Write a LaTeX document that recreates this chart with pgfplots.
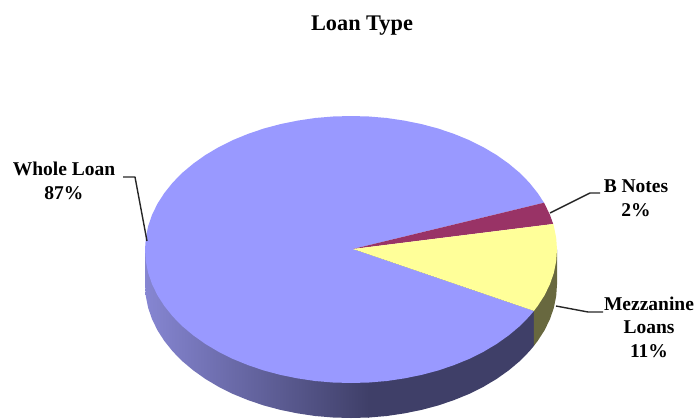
\documentclass[border=0pt]{standalone}
\usepackage{pgfplots}
\pgfplotsset{compat=1.18}
\usepackage{fontspec}
\setmainfont{Liberation Serif}
\definecolor{wholeTop}{HTML}{9999FF}
\definecolor{wholeLeft}{HTML}{8686D2}
\definecolor{wholeDark}{HTML}{3F3F68}
\definecolor{bnotes}{HTML}{993366}
\definecolor{mezzTop}{HTML}{FFFF99}
\definecolor{mezzSide}{HTML}{68683F}
\tikzset{lbl/.style={font=\fontsize{19.5}{23.5}\selectfont\bfseries, align=center, inner sep=0pt}}
\begin{document}
\begin{tikzpicture}
\begin{axis}[
	scale only axis,
	width=696pt,
	height=418pt,
	xmin=0, xmax=696,
	ymin=0, ymax=418,
	y dir=reverse,
	hide axis,
	clip=true,
	every axis plot/.append style={no markers, line join=round},
]
% side of the pie, left part with the gradient
\addplot[draw=none, left color=wholeLeft, right color=wholeDark] coordinates {
	(145,249.5) (145,284.5) (145.8,296.1) (148.1,307.7) (152,319) (157.4,330.2) (164.3,340.9)
	(172.6,351.3) (182.2,361.1) (193.2,370.3) (205.3,378.9) (218.6,386.8) (232.8,393.9)
	(248,400.1) (263.9,405.5) (280.5,409.9) (297.7,413.4) (315.2,416) (333,417.5) (351,418)
	(369,417.5) (369,249.5)} -- cycle;
% side of the pie, dark part
\addplot[draw=none, fill=wholeDark] coordinates {
	(368,249.5) (368,417.5) (369,417.5) (386.8,416) (404.3,413.4) (421.5,409.9) (438.1,405.5) (454,400.1)
	(469.2,393.9) (483.4,386.8) (496.7,378.9) (508.8,370.3) (519.8,361.1) (529.4,351.3)
	(533.9,345.9) (533.9,300)} -- cycle;
% side of the mezzanine slice
\addplot[draw=none, fill=mezzSide] coordinates {
	(533.9,300) (533.9,345.9) (537.7,340.9) (544.6,330.2) (550,319) (553.9,307.7) (556.2,296.1)
	(557,284.5) (557,249.5) (533.9,249.5)} -- cycle;
% top: whole loan
\addplot[draw=none, fill=wholeTop] coordinates {
	(353,249) (533.9,310.9) (529.4,316.3) (519.8,326.1) (508.8,335.3) (496.7,343.9) (483.4,351.8)
	(469.2,358.9) (454,365.1) (438.1,370.5) (421.5,374.9) (404.3,378.4) (386.8,381) (369,382.5)
	(351,383) (333,382.5) (315.2,381) (297.7,378.4) (280.5,374.9) (263.9,370.5) (248,365.1)
	(232.8,358.9) (218.6,351.8) (205.3,343.9) (193.2,335.3) (182.2,326.1) (172.6,316.3)
	(164.3,305.9) (157.4,295.2) (152,284) (148.1,272.7) (145.8,261.1) (145,249.5) (145.8,237.9)
	(148.1,226.3) (152,215) (157.4,203.8) (164.3,193.1) (172.6,182.7) (182.2,172.9) (193.2,163.7)
	(205.3,155.1) (218.6,147.2) (232.8,140.1) (248,133.9) (263.9,128.5) (280.5,124.1)
	(297.7,120.6) (315.2,118) (333,116.5) (351,116) (369,116.5) (386.8,118) (404.3,120.6)
	(421.5,124.1) (438.1,128.5) (454,133.9) (469.2,140.1) (483.4,147.2) (496.7,155.1)
	(508.8,163.7) (519.8,172.9) (529.4,182.7) (537.7,193.1) (544,202.7)} -- cycle;
% top: b notes
\addplot[draw=none, fill=bnotes] coordinates {
	(353,249) (544,202.7) (544.6,203.8) (550,215) (553.2,224)} -- cycle;
% top: mezzanine
\addplot[draw=none, fill=mezzTop] coordinates {
	(353,249) (553.2,224) (553.9,226.3) (556.2,237.9) (557,249.5) (556.2,261.1) (553.9,272.7)
	(550,284) (544.6,295.2) (537.7,305.9) (533.9,310.9)} -- cycle;
% leader lines
\addplot[black!85, line width=1.4pt] coordinates {(123,177) (135,177) (147,241)};
\addplot[black!85, line width=1.4pt] coordinates {(550,213) (590,193) (600,193)};
\addplot[black!85, line width=1.4pt] coordinates {(556,306) (588,312) (603,312)};
% texts
\node[font=\fontsize{22.3}{26}\selectfont\bfseries, inner sep=0pt] at (axis cs:362,25.5) {Loan Type};
\node[lbl] at (axis cs:64,181) {Whole Loan\\87\%};
\node[lbl] at (axis cs:636,198) {B Notes\\2\%};
\node[lbl] at (axis cs:649,327) {Mezzanine\\Loans\\11\%};
\end{axis}
% hide axis leaves only the drawn content in the box, so keep the full canvas
\path (current axis.south west) (current axis.north east);
\end{tikzpicture}
\end{document}
